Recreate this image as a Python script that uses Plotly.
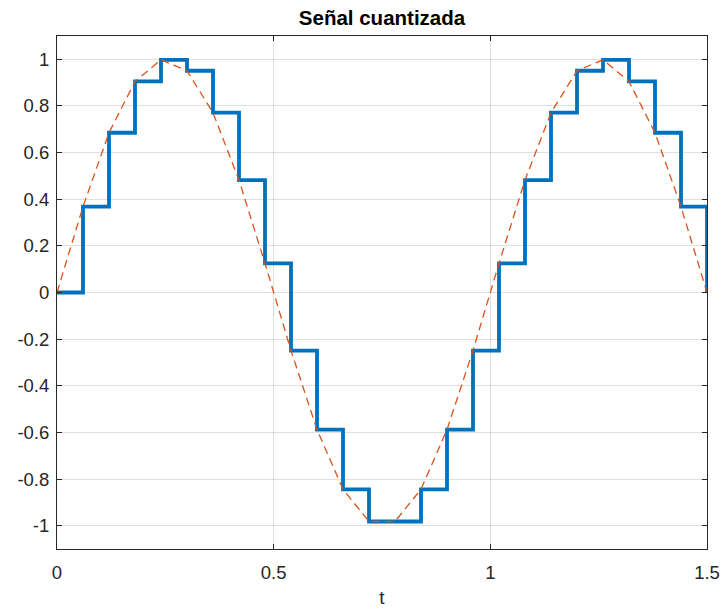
import plotly.graph_objects as go

# sample times (s) and quantized sample values
t = [0.00, 0.06, 0.12, 0.18, 0.24, 0.30, 0.36, 0.42, 0.48, 0.54, 0.60, 0.66, 0.72,
     0.78, 0.84, 0.90, 0.96, 1.02, 1.08, 1.14, 1.20, 1.26, 1.32, 1.38, 1.44, 1.50]
xq = [0.000, 0.368, 0.685, 0.905, 0.998, 0.951, 0.771, 0.482, 0.125, -0.249, -0.588,
      -0.844, -0.982, -0.982, -0.844, -0.588, -0.249, 0.125, 0.482, 0.771, 0.951,
      0.998, 0.905, 0.685, 0.368, 0.000]
x_tick_vals = [0, 0.5, 1, 1.5]
x_tick_text = ["0", "0.5", "1", "1.5"]
y_tick_vals = [-1, -0.8, -0.6, -0.4, -0.2, 0, 0.2, 0.4, 0.6, 0.8, 1]
y_tick_text = ["-1", "-0.8", "-0.6", "-0.4", "-0.2", "0", "0.2", "0.4", "0.6", "0.8", "1"]

FONT = "Liberation Sans, Arial, Helvetica"

fig = go.Figure()
fig.add_trace(go.Scatter(x=t, y=xq, mode="lines", line_shape="hv",
                         line=dict(color="#0072BD", width=3.8), showlegend=False))
fig.add_trace(go.Scatter(x=t, y=xq, mode="lines",
                         line=dict(color="#D95319", width=1.3, dash="8px,5px"), showlegend=False))

axis_common = dict(showline=True, linecolor="#262626", linewidth=1, mirror="allticks",
                   ticks="inside", ticklen=5, tickcolor="#262626", automargin=False,
                   showgrid=True, gridcolor="rgba(38,38,38,0.15)", gridwidth=1,
                   zeroline=False, tickfont=dict(family=FONT, size=18.5, color="#262626"))

fig.update_xaxes(range=[0, 1.5], tickvals=x_tick_vals, ticktext=x_tick_text,
                 ticklabelstandoff=7,
                 title=dict(text="t", font=dict(family=FONT, size=19, color="#262626"), standoff=8),
                 **axis_common)
fig.update_yaxes(range=[-1.1, 1.1], tickvals=y_tick_vals, ticktext=y_tick_text,
                 ticklabelstandoff=3, **axis_common)

fig.update_layout(
    width=724, height=609,
    margin=dict(l=57, r=17, t=36, b=60),
    plot_bgcolor="white", paper_bgcolor="white",
    title=dict(text="<b>Señal cuantizada</b>", xref="paper", x=0.5, xanchor="center",
               yref="container", y=0.970, yanchor="middle",
               font=dict(family=FONT, size=20.5, color="#000000")),
)

fig.write_html("out.html")
